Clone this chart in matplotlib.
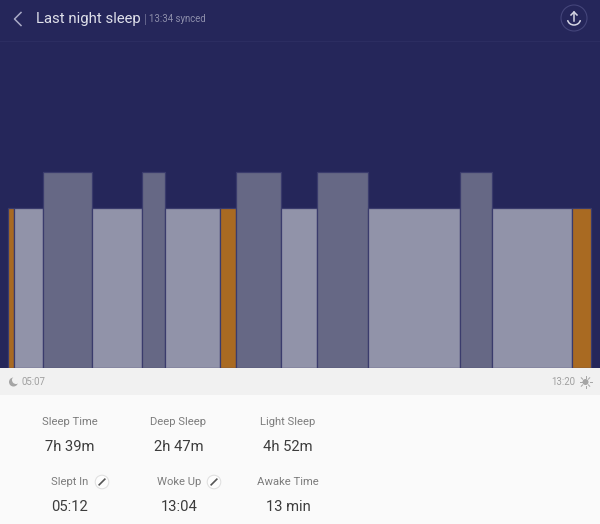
import numpy as np

import matplotlib
matplotlib.use("Agg")
import matplotlib.pyplot as plt
from matplotlib.patches import Arc, Circle, Rectangle

# sleep segments, minutes since 05:07
stages = ["awake", "light", "deep", "light", "deep", "light", "awake",
          "deep", "light", "deep", "light", "deep", "light", "awake"]
durations = [4.8, 24.8, 41.4, 42.7, 19.0, 46.9, 13.4,
             37.8, 30.9, 42.5, 77.8, 27.1, 68.2, 15.6]

stage_heights = {"awake": 160, "light": 160, "deep": 196}
stage_colors = {"awake": "#a96a22", "light": "#9193a9", "deep": "#666885"}

start_label = "05:07"
end_label = "13:20"

stat_labels = ["Sleep Time", "Deep Sleep", "Light Sleep", "Slept In", "Woke Up", "Awake Time"]
stat_values = ["7h 39m", "2h 47m", "4h 52m", "05:12", "13:04", "13 min"]

BG = "#25265a"
PX_PER_MIN = 583 / 493

plt.rcParams["font.family"] = ["Roboto", "DejaVu Sans"]


def draw_panel(ui):
    ui.add_patch(Rectangle((0, 0), 600, 368, fc=BG, ec="none"))
    ui.add_patch(Rectangle((0, 368), 600, 27, fc="#f1f1f1", ec="none"))
    ui.add_patch(Rectangle((0, 395), 600, 129, fc="#fafafa", ec="none"))
    ui.plot([0, 600], [40.5, 40.5], color="#2c2d61", lw=0.8)


def draw_header(ui):
    ui.plot([21, 14.5, 21], [12.5, 19, 25.5], color="#a9aac6", lw=1.1)
    ui.text(36, 19.5, "Last night sleep", color="#dfe0ea", fontsize=10.7, va="center")
    ui.plot([144.5, 144.5], [14, 24], color="#63648c", lw=0.7)
    ui.text(149, 19.5, "13:34 synced", color="#8d8eab", fontsize=6.9, va="center")

    # share button
    ui.add_patch(Circle((574, 18), 13, fc="none", ec="#44457a", lw=0.8))
    ui.add_patch(Arc((574, 19), 13, 12, theta1=10, theta2=170, ec="#d5d6e4", lw=1.1))
    ui.plot([574, 574], [12, 21], color="#d5d6e4", lw=1.1)
    ui.plot([571, 574, 577], [15, 12, 15], color="#d5d6e4", lw=1.1)


def draw_time_band(ui):
    ui.add_patch(Circle((13.5, 382), 4.5, fc="#a5a5a5", ec="none"))
    ui.add_patch(Circle((16, 380), 4, fc="#f1f1f1", ec="none"))
    ui.text(22, 382, start_label, color="#a0a0a0", fontsize=6.9, va="center")
    ui.text(575, 382, end_label, color="#a0a0a0", fontsize=6.9, va="center", ha="right")

    ui.add_patch(Circle((585.5, 382), 3, fc="#a5a5a5", ec="none"))
    for a in np.deg2rad(np.arange(0, 360, 45)):
        ui.plot([585.5 + 4 * np.cos(a), 585.5 + 6 * np.cos(a)],
                [382 + 4 * np.sin(a), 382 + 6 * np.sin(a)], color="#a5a5a5", lw=0.7)


def draw_pencil(ui, x, y):
    ui.add_patch(Circle((x, y), 6.8, fc="#fdfdfd", ec="#dedede", lw=0.7))
    ui.plot([x - 2.8, x + 2.8], [y + 2.8, y - 2.8], color="#555555", lw=1.2)


def draw_stats(ui):
    xs = [69.5, 178.5, 288, 69.5, 179, 288]
    label_ys = [422, 422, 422, 482, 482, 482]
    value_ys = [447, 447, 447, 507, 507, 507]
    for x, ly, vy, label, value in zip(xs, label_ys, value_ys, stat_labels, stat_values):
        ui.text(x, ly, label, color="#7c7c7c", fontsize=8.1, ha="center", va="center")
        ui.text(x, vy, value, color="#3c3c3c", fontsize=10.6, ha="center", va="center")
    draw_pencil(ui, 102, 482)
    draw_pencil(ui, 214, 482)


def main():
    fig = plt.figure(figsize=(6, 5.24), dpi=100)

    # pixel-space layer for everything around the chart
    ui = fig.add_axes([0, 0, 1, 1])
    ui.set_xlim(0, 600)
    ui.set_ylim(524, 0)
    ui.axis("off")

    draw_panel(ui)
    draw_header(ui)
    draw_time_band(ui)
    draw_stats(ui)

    # chart layer, x in minutes after 05:07, y in bar height
    ax = fig.add_axes([0, (524 - 368) / 524, 1, 368 / 524])
    ax.patch.set_visible(False)
    ax.set_xlim(-8 / PX_PER_MIN, 592 / PX_PER_MIN)
    ax.set_ylim(0, 367.5)
    ax.axis("off")

    durations_arr = np.array(durations)
    lefts = np.concatenate([[0], np.cumsum(durations_arr)[:-1]])
    ax.bar(lefts, [stage_heights[s] for s in stages], width=durations_arr, align="edge",
           color=[stage_colors[s] for s in stages], edgecolor="#3a3b6c", linewidth=0.9)

    fig.savefig("out.png", dpi=100)
    plt.close()


if __name__ == "__main__":
    main()
